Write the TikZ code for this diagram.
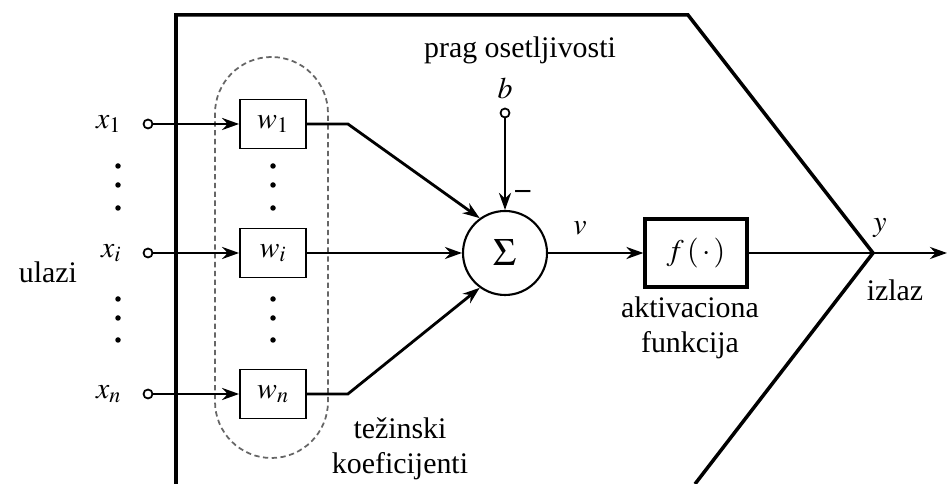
\documentclass[tikz,border=0pt]{standalone}
\usepackage{mathptmx}
\usepackage[no-math]{fontspec}
\setmainfont{Liberation Serif}
\usetikzlibrary{arrows.meta,positioning}

\begin{document}
\begin{tikzpicture}[
    font=\fontsize{17}{20}\selectfont,
    wbox/.style={rectangle, draw, line width=1pt, minimum width=1.32cm, minimum height=0.98cm, inner sep=0pt},
    actbox/.style={rectangle, draw, line width=1.8pt, minimum width=2.04cm, minimum height=1.36cm},
    sumnode/.style={circle, draw, line width=1.2pt, minimum size=1.68cm, inner sep=0pt, font=\fontsize{22}{24}\selectfont},
    port/.style={circle, draw, line width=1pt, minimum size=0.18cm, inner sep=0pt, fill=white},
    group/.style={draw, black!60, densely dashed, line width=1pt, rounded corners=1.13cm, minimum width=2.26cm, minimum height=8.02cm},
    arrow/.style={-{Stealth[length=0.34cm, width=0.24cm]}, line width=1.6pt},
    wire/.style={line width=1.6pt},
    frame/.style={line width=2pt}
]
    \useasboundingbox (0,0) rectangle (18.94,9.68);
    \coordinate (out) at (17.46,4.62);
    \coordinate (yend) at (18.94,4.62);
    \draw[frame] (3.52,0) |- (13.76,9.38) -- (out) -- (13.9,0);

    \node[group] (grp) at (5.43,4.53) {};
    \node[wbox] (w1) at (5.46,7.2) {$w_1$};
    \node[wbox] (wi) at (5.46,4.62) {$w_i$};
    \node[wbox] (wn) at (5.46,1.8) {$w_n$};
    \node[port] (p1) at (2.96,7.2) {};
    \node[port] (pi) at (2.96,4.62) {};
    \node[port] (pn) at (2.96,1.8) {};
    \node[left=0.3cm of p1] (x1) {$x_1$};
    \node[left=0.3cm of pi] (xi) {$x_i$};
    \node[left=0.3cm of pn] (xn) {$x_n$};
    \node (ulazi) at (0.96,4.24) {ulazi};

    \node[sumnode] (sig) at (10.1,4.62) {$\Sigma$};
    \node[port] (pb) at (10.1,7.42) {};
    \node[above=0.05cm of pb] (b) {$b$};
    \node (prag) at (10.4,8.68) {prag osetljivosti};
    \node (minus) at (10.46,5.78) {\textbf{--}};
    \node (v) at (11.6,5.12) {$v$};
    \node[actbox] (f) at (13.92,4.62) {$f\,(\,\cdot\,)$};
    \node[align=center] (akt) at (13.8,3.13) {aktivaciona\\funkcija};
    \node[align=center] (tez) at (8.0,0.71) {težinski\\koeficijenti};
    \node (y) at (17.6,5.12) {$y$};
    \node (izlaz) at (17.9,3.88) {izlaz};

    \foreach \yy in {6.36,5.98,5.52,3.7,3.32,2.88} {
        \fill (2.36,\yy) circle (0.055);
        \fill (5.46,\yy) circle (0.055);
    }

    \foreach \k in {1,i,n}
        \draw[arrow] (p\k) -- (w\k);
    \draw[arrow] (w1.east) -- ++(0.82,0) -- (sig.126);
    \draw[arrow] (wi) -- (sig);
    \draw[arrow] (wn.east) -- ++(0.82,0) -- (sig.234);
    \draw[arrow] (pb) -- (sig);
    \draw[arrow] (sig) -- (f);
    \draw[wire] (f) -- (out);
    \draw[arrow] (out) -- (yend);
\end{tikzpicture}
\end{document}
